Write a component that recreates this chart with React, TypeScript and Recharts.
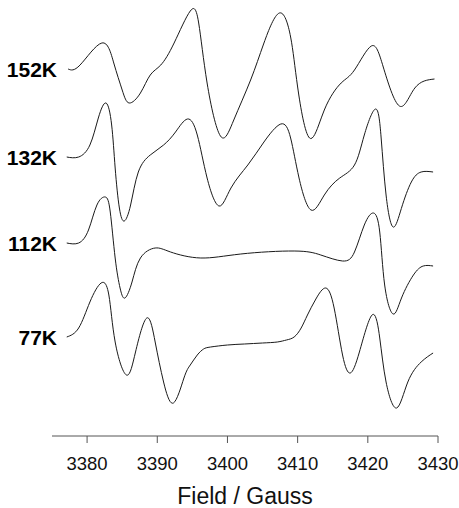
import React from 'react';
import { LineChart, Line, XAxis, YAxis } from 'recharts';

// EPR spectra, values (field in gauss, signal in arbitrary units)
const temperatures = ['152K', '132K', '112K', '77K'];
const baselines = [367, 279, 193, 99]; // vertical stacking offset of each trace
const fieldTicks = [3380, 3390, 3400, 3410, 3420, 3430];

const field152 = [3377.3, 3379.0, 3382.1, 3383.8, 3385.0, 3386.0, 3387.6, 3389.0, 3390.5, 3392.4, 3394.7, 3395.9, 3397.1, 3399.0, 3400.9, 3403.3, 3405.2, 3407.4, 3409.0, 3410.0, 3411.7, 3413.8, 3416.2, 3418.1, 3420.5, 3422.2, 3424.5, 3426.7, 3429.5];
const signal152 = [0, 4, 26, 6, -21, -34, -24, -6, 4, 26, 58, 46, -14, -67, -51, -11, 26, 56, 32, -18, -69, -41, -14, -1, 23, 2, -37, -19, -10];

const field132 = [3377.1, 3378.8, 3380.4, 3381.6, 3382.7, 3383.5, 3384.0, 3384.6, 3385.3, 3386.2, 3387.3, 3389.0, 3390.9, 3392.6, 3394.3, 3395.7, 3397.1, 3398.8, 3400.5, 3402.9, 3405.2, 3407.6, 3409.0, 3410.2, 3411.9, 3413.8, 3416.0, 3418.1, 3419.5, 3421.1, 3421.9, 3422.6, 3423.6, 3424.8, 3426.2, 3427.6, 3429.3];
const signal132 = [0, 0, 12, 39, 54, 32, -11, -51, -64, -48, -15, 2, 12, 25, 38, 22, -21, -49, -31, -8, 15, 33, 19, -21, -53, -38, -21, -8, 22, 48, 19, -38, -70, -51, -25, -15, -15];

const field112 = [3377.1, 3378.8, 3380.2, 3381.4, 3382.6, 3383.3, 3384.0, 3384.7, 3385.4, 3386.4, 3387.6, 3389.7, 3391.9, 3396.2, 3401.9, 3409.5, 3413.3, 3416.4, 3418.1, 3419.5, 3420.8, 3421.7, 3422.4, 3423.6, 3424.8, 3426.5, 3427.9, 3429.3];
const signal112 = [0, 0, 13, 38, 46, 31, -15, -45, -55, -39, -15, -5, -9, -15, -11, -8, -12, -18, -9, 18, 30, 11, -42, -71, -55, -32, -23, -23];

const field77 = [3377.1, 3378.8, 3380.4, 3382.0, 3383.1, 3384.0, 3385.6, 3386.9, 3388.5, 3389.7, 3390.9, 3392.3, 3393.8, 3394.7, 3395.7, 3396.6, 3397.6, 3400.0, 3402.4, 3405.0, 3407.1, 3408.4, 3409.5, 3410.5, 3411.4, 3412.6, 3414.0, 3415.2, 3416.4, 3417.5, 3418.8, 3420.6, 3421.7, 3422.6, 3424.1, 3425.7, 3427.6, 3429.3];
const signal77 = [0, 9, 35, 54, 42, -5, -38, -15, 19, -5, -45, -66, -41, -28, -18, -12, -10, -8, -7, -6, -5, -3, 0, 9, 22, 38, 49, 29, -18, -36, -15, 22, -1, -45, -71, -45, -25, -16];

const fields = [field152, field132, field112, field77];
const signals = [signal152, signal132, signal112, signal77];

const series = temperatures.map((name, i) => ({
  name,
  data: fields[i].map((f, j) => ({ field: f, value: baselines[i] + signals[i][j] })),
}));

const FONT = '"Liberation Sans", Arial, sans-serif';

const TempTick = (props: any) => {
  const { x, y, payload } = props;
  const idx = baselines.indexOf(payload.value);
  return (
    <text x={x + 5} y={y} dy="0.38em" textAnchor="end" fontFamily={FONT} fontSize={21} fontWeight="bold" fill="#000">
      {temperatures[idx]}
    </text>
  );
};

const AxisTitle = (props: any) => {
  const { viewBox } = props;
  return (
    <text
      x={viewBox.x + viewBox.width / 2}
      y={viewBox.y + viewBox.height - 4}
      textAnchor="middle"
      fontFamily={FONT}
      fontSize={23}
      fill="#111"
    >
      Field / Gauss
    </text>
  );
};

export default function App() {
  return (
    <div style={{ position: 'absolute', left: 0, top: 0, width: 459, height: 508, background: '#fff' }}>
      <LineChart width={459} height={508} margin={{ top: 0, right: 21, bottom: 0, left: 0 }}>
        <XAxis
          dataKey="field"
          type="number"
          domain={[3375, 3430]}
          ticks={fieldTicks}
          allowDataOverflow
          height={72}
          tickSize={7}
          tickMargin={14}
          axisLine={{ stroke: '#555', strokeWidth: 1 }}
          tickLine={{ stroke: '#555', strokeWidth: 1 }}
          tick={{ fontFamily: FONT, fontSize: 18.5, fill: '#111' }}
          label={<AxisTitle />}
        />
        <YAxis
          type="number"
          domain={[0, 436]}
          ticks={baselines}
          allowDataOverflow
          width={52}
          axisLine={false}
          tickLine={false}
          tickSize={0}
          tickMargin={0}
          tick={<TempTick />}
        />
        {series.map((s) => (
          <Line
            key={s.name}
            data={s.data}
            dataKey="value"
            name={s.name}
            type="natural"
            stroke="#1a1a1a"
            strokeWidth={1}
            dot={false}
            isAnimationActive={false}
          />
        ))}
      </LineChart>
    </div>
  );
}
